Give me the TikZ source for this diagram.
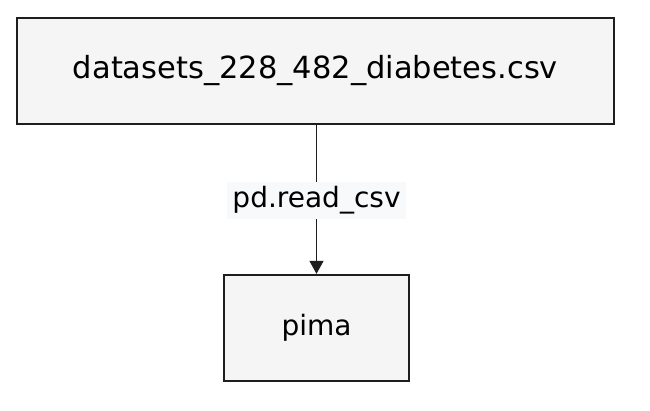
\documentclass[tikz,border=0pt]{standalone}
\usepackage{fontspec}
\setmainfont{DejaVu Sans}
\usetikzlibrary{arrows.meta}
\definecolor{ink}{RGB}{30,30,30}
\definecolor{boxfill}{RGB}{245,245,245}
\definecolor{lblfill}{RGB}{248,249,250}
\tikzset{
  filebox/.style={draw=ink, line width=2.3pt, fill=boxfill, inner sep=0pt,
    font=\fontsize{28}{32}\selectfont},
  flowline/.style={draw=ink, line width=1.4pt, -{Triangle[length=13pt,width=14pt]}},
  flowlabel/.style={fill=lblfill, inner sep=5pt, font=\fontsize{28}{32}\selectfont}
}
\begin{document}
\begin{tikzpicture}[x=1pt,y=-1pt]
  \useasboundingbox (0,0) rectangle (650,410);
  % data file
  \node[filebox, minimum width=597pt, minimum height=106pt,
    font=\fontsize{30.5}{34}\selectfont] (csv) at (315.5,71)
    {datasets\_228\_482\_diabetes.csv};
  % data frame
  \node[filebox, minimum width=185pt, minimum height=106pt] (pima) at (316.5,328)
    {pima};
  % read step
  \draw[flowline] (csv.south -| pima.north) -- (pima.north)
    node[flowlabel, midway, yshift=-1pt] (readcsv) {pd.read\_csv};
\end{tikzpicture}
\end{document}
